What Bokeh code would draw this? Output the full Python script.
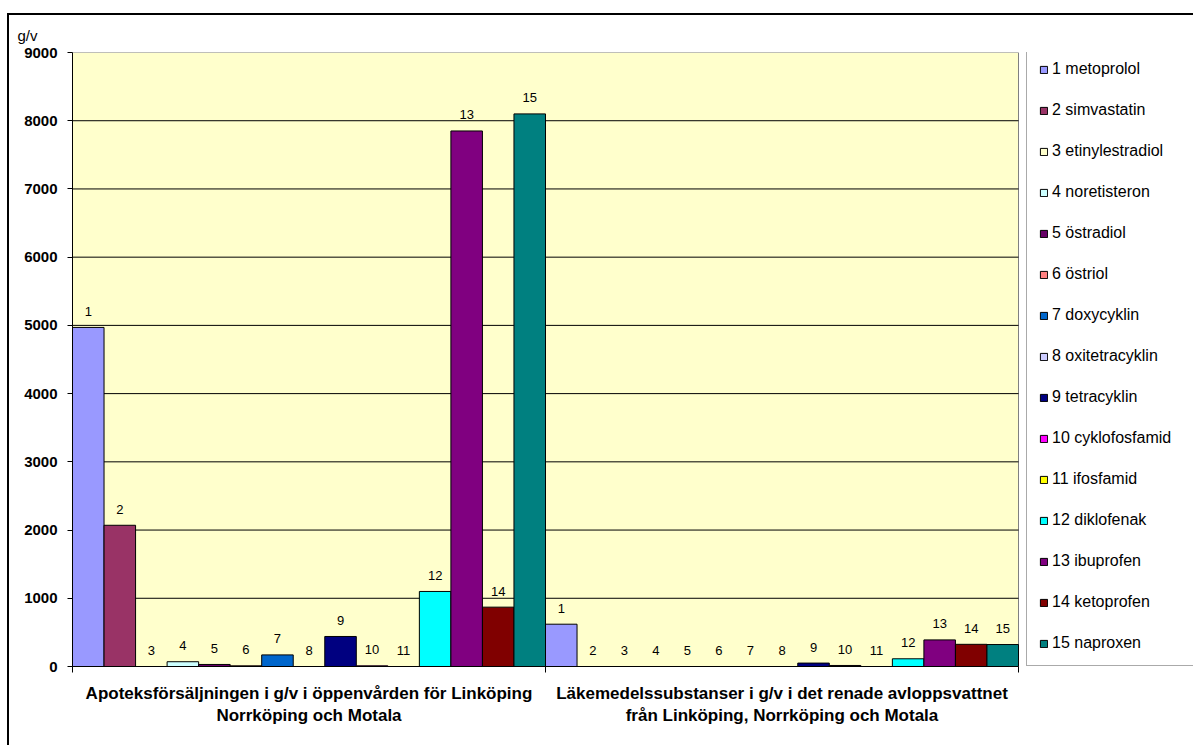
from bokeh.plotting import figure
from bokeh.layouts import column
from bokeh.models import (Range1d, FixedTicker, Legend, LegendItem, ColumnDataSource)
from bokeh.core.properties import value
from bokeh.embed import file_html
from bokeh.resources import INLINE

# Substances (legend entries) and their bar colours
substances = ["1 metoprolol", "2 simvastatin", "3 etinylestradiol", "4 noretisteron",
              "5 östradiol", "6 östriol", "7 doxycyklin", "8 oxitetracyklin",
              "9 tetracyklin", "10 cyklofosfamid", "11 ifosfamid", "12 diklofenak",
              "13 ibuprofen", "14 ketoprofen", "15 naproxen"]
numbers = [str(i) for i in range(1, 16)]
colors = ["#9999FF", "#993366", "#FFFFCC", "#CCFFFF", "#660066", "#FF8080",
          "#0066CC", "#CCCCFF", "#000080", "#FF00FF", "#FFFF00", "#00FFFF",
          "#800080", "#800000", "#008080"]

# Categories (two groups of 15 bars)
group_labels = [
    "Apoteksförsäljningen i g/v i öppenvården för Linköping\nNorrköping och Motala",
    "Läkemedelssubstanser i g/v i det renade avloppsvattnet\nfrån Linköping, Norrköping och Motala",
]

# g/v per substance
pharmacy_sales = [4970, 2070, 0, 70, 30, 10, 170, 0, 440, 10, 0, 1100, 7850, 870, 8100]
treated_effluent = [620, 0, 0, 0, 0, 0, 0, 0, 50, 15, 0, 113, 390, 325, 322]

y_ticks = list(range(0, 9001, 1000))

# page offset of the chart box (outer frame line drawn by CSS)
OFF_X, OFF_Y = 9, 15
W, H = 1193 - OFF_X, 745 - OFF_Y
LEFT, TOP = 72 - OFF_X, 52 - OFF_Y
PLOT_W, PLOT_H = 946, 614          # size of the yellow plot area
FRAME_W = W - LEFT                 # frame runs on under the legend
BOTTOM = H - TOP - PLOT_H

n = len(substances)
x_cat = 2 * n                      # x extent of the two category groups
x_max = x_cat * FRAME_W / PLOT_W
y_max = 9000
px_y = PLOT_H / y_max              # pixels per y unit

font = "Liberation Sans"

p = figure(width=W, height=H, output_backend="svg", toolbar_location=None,
           x_range=Range1d(0, x_max), y_range=Range1d(0, y_max),
           min_border_left=LEFT, min_border_right=0,
           min_border_top=TOP, min_border_bottom=BOTTOM,
           title="g/v")
p.background_fill_color = "white"
p.border_fill_color = "white"
p.outline_line_color = None

p.title.align = "left"
p.title.offset = -(LEFT - 8)
p.title.text_font = font
p.title.text_font_style = "normal"
p.title.text_font_size = "15px"
p.title.text_color = "black"
p.title.standoff = 18

# plot area
p.quad(left=[0], right=[x_cat], bottom=[0], top=[y_max],
       fill_color="#FFFFCC", line_color="#808080", line_width=1)
grid_y = y_ticks[1:-1]
p.segment(x0=[0] * len(grid_y), x1=[x_cat] * len(grid_y), y0=grid_y, y1=grid_y,
          line_color="black", line_width=1)

# bars: one renderer per substance, one bar in each group
renderers = []
for i in range(n):
    src = ColumnDataSource(dict(x=[i + 0.5, n + i + 0.5],
                                top=[pharmacy_sales[i], treated_effluent[i]]))
    r = p.vbar(x="x", top="top", width=1.0, bottom=0, source=src,
               fill_color=colors[i], line_color="black", line_width=1)
    renderers.append(r)

# number labels above every bar
lab_x, lab_y, lab_t = [], [], []
for g, vals in enumerate([pharmacy_sales, treated_effluent]):
    for i, v in enumerate(vals):
        lab_x.append(g * n + i + 0.5)
        lab_y.append(v + 16 / px_y)
        lab_t.append(numbers[i])
p.text(x=lab_x, y=lab_y, text=lab_t, text_align="center", text_baseline="middle",
       text_font_size="13px", text_color="black", text_font=value(font))

# y axis
yax = p.yaxis[0]
yax.ticker = FixedTicker(ticks=y_ticks)
yax.major_tick_out = 5
yax.major_tick_in = 0
yax.minor_tick_line_color = None
yax.axis_line_color = "black"
yax.major_tick_line_color = "black"
yax.major_label_text_font = font
yax.major_label_text_font_style = "bold"
yax.major_label_text_font_size = "15px"
yax.major_label_text_color = "black"
yax.major_label_standoff = 10

p.ygrid.grid_line_color = None
p.xgrid.grid_line_color = None

# x axis: group names at the centres, boundary marks between the groups
xax = p.xaxis[0]
xax.bounds = (0, x_cat)
xax.ticker = FixedTicker(ticks=[n / 2, n + n / 2], minor_ticks=[0, n, 2 * n])
xax.major_label_overrides = {n / 2: group_labels[0], n + n / 2: group_labels[1]}
xax.major_tick_line_color = None
xax.major_tick_out = 0
xax.major_tick_in = 0
xax.minor_tick_out = 6
xax.minor_tick_in = 0
xax.minor_tick_line_color = "black"
xax.axis_line_color = "black"
xax.major_label_standoff = 11
xax.major_label_text_font = font
xax.major_label_text_font_style = "bold"
xax.major_label_text_font_size = "17px"
xax.major_label_text_color = "black"
xax.major_label_text_align = "center"

# legend to the right of the plot area
legend = Legend(items=[LegendItem(label=substances[i], renderers=[renderers[i]])
                       for i in range(n)],
                location=(PLOT_W + 8, 0), orientation="vertical",
                glyph_width=9, glyph_height=9, label_height=20, label_width=130,
                spacing=21, padding=12, label_standoff=4, margin=0,
                label_text_font=font, label_text_font_size="16px",
                label_text_color="black",
                border_line_color="#555555", border_line_width=1,
                background_fill_color="white", background_fill_alpha=1)
p.add_layout(legend, "center")

page = column(p, margin=(OFF_Y - 2, 0, 0, OFF_X - 2),
              styles={"border-top": "2px solid black", "border-left": "2px solid black"})

open("out.html", "w").write(file_html(page, INLINE))
